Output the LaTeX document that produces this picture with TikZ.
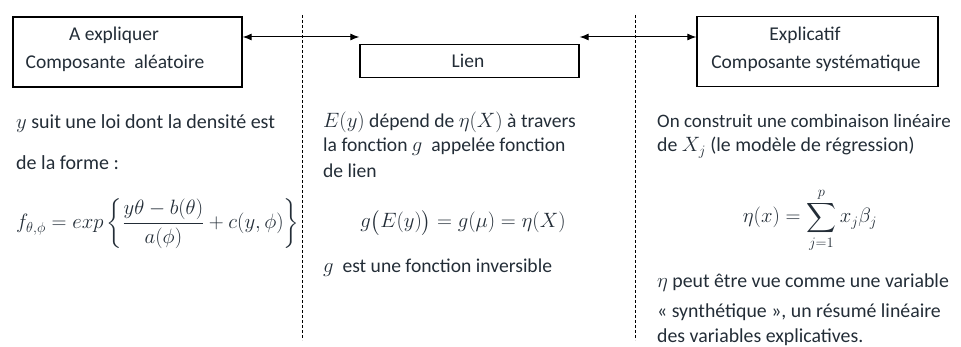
\documentclass[tikz,border=0pt]{standalone}
\usepackage{fontspec}
\setmainfont{Carlito}
\usepackage{amsmath}
\usetikzlibrary{arrows.meta}
\definecolor{txt}{RGB}{35,45,55}
\begin{document}
\begin{tikzpicture}[x=1pt,y=-1pt,
  box/.style={draw, line width=1.3pt, inner sep=0pt},
  tl/.style={anchor=base west, inner sep=0pt, font=\fontsize{20}{24}\selectfont, text=txt},
  tlm/.style={anchor=base west, inner sep=0pt, font=\fontsize{19.6}{24}\selectfont, text=txt},
  tlb/.style={anchor=base west, inner sep=0pt, font=\fontsize{19.8}{24}\selectfont, text=txt},
  th/.style={anchor=base, inner sep=0pt, font=\fontsize{19.5}{23}\selectfont, text=txt},
  tm/.style={inner sep=0pt, text=txt},
  link/.style={{Latex[length=9pt,width=7pt]}-{Latex[length=9pt,width=7pt]}, line width=1pt},
  sep/.style={line width=1pt, dash pattern=on 3pt off 2pt}]
\useasboundingbox (0,0) rectangle (961,347);
% boxes
\node[box, minimum width=229pt, minimum height=70pt] (b1) at (127.5,52) {};
\node[box, minimum width=219pt, minimum height=33pt] (lien) at (469.5,61) {};
\node[box, minimum width=241pt, minimum height=70pt] (b3) at (817.5,51.5) {};
\node[th] (b1a) at (114,41) {A expliquer};
\node[th] (b1b) at (115,69) {Composante\ \ aléatoire};
\node[th] (lt) at (468,68) {Lien};
\node[th] (b3a) at (805,41) {Explicatif};
\node[th] (b3b) at (816,69) {Composante systématique};
% connectors
\coordinate (ay) at (0,37);
\draw[link] (b1.east |- ay) -- (lien.west |- ay);
\draw[link] (lien.east |- ay) -- (b3.west |- ay);
% separators
\coordinate (s1t) at (302,15); \coordinate (s1b) at (302,340);
\coordinate (s2t) at (635,15); \coordinate (s2b) at (635,340);
\draw[sep] (s1t) -- (s1b);
\draw[sep] (s2t) -- (s2b);
% column 1
\node[tl] (c1a) at (16,129) {$y$ suit une loi dont la densité est};
\node[tl] (c1b) at (16,170) {de la forme :};
\node[tm, anchor=base west, font=\fontsize{20.7}{25}\selectfont] (c1e) at (16,229) {$f_{\theta,\phi} = exp\left\{\dfrac{y\theta - b(\theta)}{a(\phi)} + c(y,\phi)\right\}$};
% column 2
\node[tlm] (c2a) at (323,128) {$E(y)$ dépend de $\eta(X)$ à travers};
\node[tlm] (c2b) at (323,152) {la fonction $g$\ \ appelée fonction};
\node[tlm] (c2c) at (323,178) {de lien};
\node[tm, anchor=base, font=\fontsize{21}{25}\selectfont] (c2e) at (463,228) {$g\bigl(E(y)\bigr) = g(\mu) = \eta(X)$};
\node[tlm] (c2d) at (323,273) {$g$\ \ est une fonction inversible};
% column 3
\node[tlb, font=\fontsize{19}{24}\selectfont] (c3a) at (657,128) {On construit une combinaison linéaire};
\node[tlb] (c3b) at (657,152) {de $X_j$ (le modèle de régression)};
\node[tm, anchor=base, font=\fontsize{19.5}{24}\selectfont] (c3e) at (810,223) {$\displaystyle \eta(x) = \sum_{j=1}^{p} x_j\beta_j$};
\node[tlb] (c3c) at (657,288) {$\eta$ peut être vue comme une variable};
\node[tlb] (c3d) at (657,317) {« synthétique », un résumé linéaire};
\node[tlb] (c3f) at (657,342) {des variables explicatives.};
\end{tikzpicture}
\end{document}
